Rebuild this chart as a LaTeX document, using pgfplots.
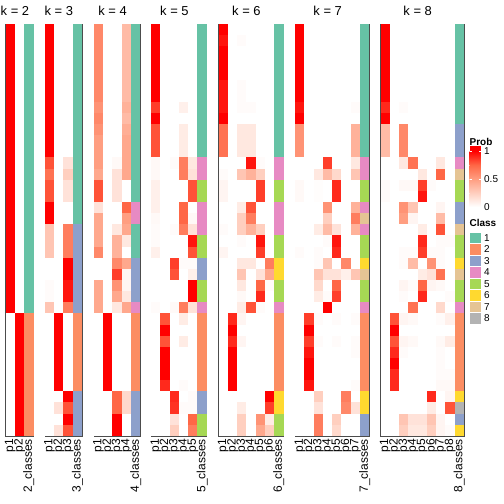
\documentclass[border=0pt]{standalone}
\usepackage{fontspec}
\setmainfont{Liberation Sans}
\usepackage{pgfplots}
\usepackage{pgfplotstable}
\pgfplotsset{compat=1.18}
\definecolor{cls1}{HTML}{66C2A5}
\definecolor{cls2}{HTML}{FC8D62}
\definecolor{cls3}{HTML}{8DA0CB}
\definecolor{cls4}{HTML}{E78AC3}
\definecolor{cls5}{HTML}{A6D854}
\definecolor{cls6}{HTML}{FFD92F}
\definecolor{cls7}{HTML}{E5C494}
\definecolor{cls8}{HTML}{B3B3B3}
\definecolor{q1}{RGB}{255,207,191}
\definecolor{q2}{RGB}{255,158,129}
\definecolor{q3}{RGB}{255,103,70}
\pgfdeclareplotmark{cell}{\pgfpathrectangle{\pgfpoint{-4.75bp}{-5.72bp}}{\pgfpoint{9.5bp}{11.44bp}}\pgfusepathqfill}
\pgfplotsset{
  colormap={wr}{rgb255=(255,255,255) rgb255=(255,207,191) rgb255=(255,158,129) rgb255=(255,103,70) rgb255=(255,0,0)},
  panel/.style={anchor=north west, scale only axis, height=412bp,
    ymin=-0.5, ymax=36.5, y dir=reverse, xmin=-0.5, enlargelimits=false,
    axis on top, axis line style={draw=black!70, line width=0.8bp},
    ytick=\empty, xtick style={draw=none}, major tick length=0pt,
    xticklabel style={rotate=90, anchor=east, inner sep=0pt, font=\fontsize{12}{14}\selectfont},
    xticklabel shift=3bp,
    title style={font=\fontsize{13}{15}\selectfont, anchor=base, yshift=2.5bp, inner sep=0pt},
    point meta min=0, point meta max=1, colormap name=wr},
  prob/.style={scatter, only marks, mark=cell, point meta=explicit},
  cls/.style={scatter, only marks, mark=cell, point meta=explicit symbolic,
    scatter/classes={1={mark=cell,fill=cls1,draw=cls1},2={mark=cell,fill=cls2,draw=cls2},
      3={mark=cell,fill=cls3,draw=cls3},4={mark=cell,fill=cls4,draw=cls4},
      5={mark=cell,fill=cls5,draw=cls5},6={mark=cell,fill=cls6,draw=cls6},
      7={mark=cell,fill=cls7,draw=cls7},8={mark=cell,fill=cls8,draw=cls8}}}
}
\pgfplotstableread{
p1 p2 c
1 0 1
1 0 1
1 0 1
1 0 1
1 0 1
1 0 1
1 0 1
1 0 1
1 0 1
1 0 1
1 0 1
1 0 1
1 0 1
1 0 1
1 0 1
1 0 1
1 0 1
1 0 1
1 0 1
1 0 1
1 0 1
1 0 1
1 0 1
1 0 1
1 0 1
1 0 1
0 1 2
0 1 2
0 1 2
0 1 2
0 1 2
0 1 2
0 1 2
0 1 2
0 1 2
0 1 2
0 1 2
}\tTwo
\pgfplotstableread{
p1 p2 p3 c
1 0 0 1
1 0 0 1
1 0 0 1
1 0 0 1
1 0 0 1
1 0 0 1
1 0 0 1
1 0 0 1
1 0 0 1
1 0 0 1
1 0 0 1
1 0 0 1
0.8 0 0.15 1
0.7 0 0.25 1
0.8 0 0.15 1
0.8 0 0.15 1
1 0 0 1
1 0 0 1
0.3 0 0.65 3
0.3 0 0.65 3
0.3 0 0.65 3
0 0 1 3
0 0 1 3
0.02 0 0.95 3
0.02 0 0.95 3
0.3 0 0.65 3
0 1 0 2
0 1 0 2
0 1 0 2
0 1 0 2
0 1 0 2
0 1 0 2
0 1 0 2
0 0 1 3
0 0.15 0.8 3
0 0 1 3
0 0.15 0.8 3
}\tThree
\pgfplotstableread{
p1 p2 p3 p4 c
0.6 0 0 0.35 1
0.6 0 0 0.35 1
0.6 0 0 0.35 1
0.6 0 0 0.35 1
0.6 0 0 0.35 1
0.6 0 0 0.35 1
0.6 0 0 0.35 1
0.55 0 0 0.4 1
0.6 0 0 0.35 1
0.55 0 0 0.42 1
0.5 0 0 0.45 1
0.5 0 0 0.45 1
0.5 0 0.03 0.45 1
0.45 0 0.15 0.45 1
0.8 0 0.15 0 1
0.8 0 0.15 0 1
0.15 0 0 0.75 4
0.45 0 0 0.5 4
0.45 0 0.12 0.45 1
0.45 0 0.4 0.12 1
0.6 0 0.4 0 1
0 0 0.6 0.45 3
0 0 0.85 0.05 3
0.45 0 0.55 0.05 3
0.45 0 0.45 0.12 3
0.45 0 0.12 0.45 4
0 1 0 0 2
0 1 0 0 2
0 1 0 0 2
0 1 0 0 2
0 1 0 0 2
0 1 0 0 2
0 1 0 0 2
0 0 0.75 0.2 3
0 0 0.75 0.2 3
0 0 1 0 3
0 0 1 0 3
}\tFour
\pgfplotstableread{
p1 p2 p3 p4 p5 c
1 0 0 0 0 1
1 0 0 0 0 1
1 0 0 0 0 1
1 0 0 0 0 1
1 0 0 0 0 1
1 0 0 0 0 1
1 0 0 0 0 1
0.85 0 0 0.08 0 1
1 0 0 0 0 1
0.8 0 0 0.1 0 1
0.8 0 0 0.1 0 1
0.8 0 0 0.1 0 1
0.03 0 0.02 0.65 0.12 4
0.03 0 0 0.65 0.15 4
0.08 0 0 0 0.8 5
0.08 0 0 0 0.8 5
0.08 0 0 0.75 0 4
0.03 0 0 0.75 0.03 4
0.02 0 0.02 0.65 0.15 4
0.02 0 0 0 0.95 5
0.08 0 0 0 0.8 5
0 0 0.85 0.02 0.02 3
0 0 0.8 0 0.08 3
0 0 0 0 1 5
0 0 0 0 1 5
0.02 0 0.03 0.65 0.15 4
0 0.8 0 0.1 0 2
0 1 0 0 0 2
0 0.8 0 0.1 0 2
0 1 0 0 0 2
0 1 0 0 0 2
0 1 0 0 0 2
0 0.9 0 0.02 0 2
0 0 0.9 0 0.02 3
0 0 0.88 0.02 0.02 3
0 0 0.15 0 0.75 5
0 0 0.25 0 0.65 5
}\tFive
\pgfplotstableread{
p1 p2 p3 p4 p5 p6 c
1 0 0 0 0 0 1
0.95 0 0.02 0 0 0 1
1 0 0 0 0 0 1
1 0 0 0 0 0 1
1 0 0 0 0 0 1
0.95 0 0.02 0 0 0 1
0.95 0 0.02 0 0 0 1
0.95 0 0.02 0.02 0 0 1
1 0 0 0 0 0 1
0.7 0 0.12 0.12 0 0 1
0.7 0 0.12 0.12 0 0 1
0.7 0 0.12 0.12 0 0 1
0 0 0 0.95 0.02 0 4
0.02 0 0.3 0.4 0.25 0 4
0.05 0 0 0 0.85 0 5
0.05 0 0 0 0.85 0 5
0 0 0.1 0.8 0 0 4
0 0 0.25 0.65 0 0 4
0.02 0 0.25 0.4 0.25 0 4
0 0 0.02 0 0.95 0 5
0.05 0 0 0 0.85 0 5
0 0 0.12 0.12 0 0.65 6
0 0 0.3 0 0.15 0.45 6
0 0 0.12 0 0.75 0.02 5
0 0 0.03 0 0.9 0 5
0 0 0.1 0.8 0.02 0 4
0 0.9 0.05 0 0 0 2
0 1 0 0 0 0 2
0 0.9 0.05 0 0 0 2
0 1 0 0 0 0 2
0 1 0 0 0 0 2
0 1 0 0 0 0 2
0 1 0 0 0 0 2
0 0 0 0 0 1 6
0 0 0.1 0 0 0.85 6
0 0 0.25 0 0.55 0.1 5
0 0 0.25 0 0.45 0.25 5
}\tSix
\pgfplotstableread{
p1 p2 p3 p4 p5 p6 p7 c
1 0 0 0 0 0 0 1
1 0 0 0 0 0 0 1
1 0 0 0 0 0 0 1
1 0 0 0 0 0 0 1
1 0 0 0 0 0 0 1
1 0 0 0 0 0 0 1
1 0 0 0 0 0 0 1
0.95 0 0 0 0 0 0.02 1
1 0 0 0 0 0 0 1
0.55 0 0 0 0 0 0.4 1
0.55 0 0 0 0 0 0.4 1
0.55 0 0 0 0 0 0.4 1
0 0 0 0.85 0 0 0.12 4
0 0 0.12 0.35 0.2 0 0.3 4
0.03 0 0.01 0 0.9 0 0 5
0.03 0 0.01 0 0.9 0 0 5
0 0 0 0.55 0 0 0.4 4
0 0 0 0.25 0 0 0.65 7
0 0 0.1 0.35 0.15 0 0.4 4
0 0 0 0.02 0.95 0 0 5
0.02 0 0.02 0 0.9 0 0 5
0 0 0.02 0.3 0 0.6 0 6
0 0 0.3 0.15 0.15 0.08 0.3 7
0 0 0.2 0 0.75 0 0 5
0 0 0.1 0.02 0.85 0 0 5
0 0 0 1 0 0 0 4
0 0.85 0.02 0 0.02 0 0.02 2
0 1 0 0 0 0 0 2
0 0.85 0.02 0 0.02 0 0.02 2
0 0.95 0 0 0 0 0.02 2
0 1 0 0 0 0 0 2
0 1 0 0 0 0 0 2
0 0.95 0 0 0 0 0.02 2
0 0 0.25 0 0 0.65 0 6
0 0 0.15 0 0 0.6 0.15 6
0 0 0.65 0 0.25 0 0 3
0 0 0.65 0 0.2 0 0 3
}\tSeven
\pgfplotstableread{
p1 p2 p3 p4 p5 p6 p7 p8 c
1 0 0 0 0 0 0 0 1
1 0 0 0 0 0 0 0 1
1 0 0 0 0 0 0 0 1
1 0 0 0 0 0 0 0 1
1 0 0 0 0 0 0 0 1
1 0 0 0 0 0 0 0 1
1 0 0 0 0 0 0 0 1
0.9 0 0.02 0 0 0 0 0 1
1 0 0 0 0 0 0 0 1
0.35 0 0.6 0 0 0 0 0 3
0.35 0 0.6 0 0 0 0 0 3
0.35 0 0.6 0 0 0 0 0 3
0 0 0.12 0.7 0 0 0.12 0 4
0 0 0 0 0.12 0 0.75 0 7
0.02 0 0.03 0.03 0.85 0.02 0 0 5
0.02 0 0 0 0.95 0 0 0 5
0 0 0.55 0.3 0 0 0.05 0 3
0 0 0.5 0.05 0 0 0.35 0 3
0 0 0 0 0.1 0 0.8 0 7
0 0 0 0 0.9 0 0.02 0.02 5
0 0 0.02 0.02 0.85 0.02 0.02 0 5
0 0 0.02 0.35 0 0.55 0.02 0 6
0 0 0 0 0.1 0.15 0.7 0 7
0 0 0.05 0.02 0.75 0.05 0.03 0 5
0 0 0.02 0 0.9 0 0 0.02 5
0 0 0 0.7 0 0 0.2 0 4
0 0.8 0.05 0.03 0 0 0.02 0.08 2
0 1 0 0 0 0 0 0 2
0 0.8 0.05 0.03 0 0 0.03 0.1 2
0 0.9 0.02 0 0 0 0.02 0 2
0 1 0 0 0 0 0.02 0 2
0 0.9 0 0 0 0 0.02 0.02 2
0 0.9 0 0 0 0 0.03 0.03 2
0 0 0 0 0 0.9 0 0.05 6
0 0 0 0 0 0.1 0 0.8 8
0 0 0.3 0.15 0.15 0.3 0.05 0 3
0 0 0.25 0.12 0.12 0.25 0.05 0.02 6
}\tEight
\newcommand\lfont{\fontsize{10}{12}\selectfont}
\begin{document}
\begin{tikzpicture}
\useasboundingbox (0,0) rectangle (504bp,-504bp);
% k = 2
\begin{axis}[panel, at={(5.7bp,-24bp)}, width=27.75bp, xmax=2.5,
  xtick={0,1,2}, xticklabels={p1,p2,2\_classes},
  title={k = 2}, title style={at={(0.3333,1)}}]
\pgfplotsinvokeforeach{1,2}{\addplot[prob] table[x expr=#1-1, y expr=\coordindex, meta=p#1]{\tTwo};}
\addplot[cls] table[x expr=2, y expr=\coordindex, meta=c]{\tTwo};
\end{axis}
% k = 3
\begin{axis}[panel, at={(45bp,-24bp)}, width=37bp, xmax=3.5,
  xtick={0,1,2,3}, xticklabels={p1,p2,p3,3\_classes},
  title={k = 3}, title style={at={(0.375,1)}}]
\pgfplotsinvokeforeach{1,2,3}{\addplot[prob] table[x expr=#1-1, y expr=\coordindex, meta=p#1]{\tThree};}
\addplot[cls] table[x expr=3, y expr=\coordindex, meta=c]{\tThree};
\end{axis}
% k = 4
\begin{axis}[panel, at={(94bp,-24bp)}, width=46.25bp, xmax=4.5,
  xtick={0,1,2,3,4}, xticklabels={p1,p2,p3,p4,4\_classes},
  title={k = 4}, title style={at={(0.4,1)}}]
\pgfplotsinvokeforeach{1,2,3,4}{\addplot[prob] table[x expr=#1-1, y expr=\coordindex, meta=p#1]{\tFour};}
\addplot[cls] table[x expr=4, y expr=\coordindex, meta=c]{\tFour};
\end{axis}
% k = 5
\begin{axis}[panel, at={(151.3bp,-24bp)}, width=55.5bp, xmax=5.5,
  xtick={0,1,2,3,4,5}, xticklabels={p1,p2,p3,p4,p5,5\_classes},
  title={k = 5}, title style={at={(0.41667,1)}}]
\pgfplotsinvokeforeach{1,2,3,4,5}{\addplot[prob] table[x expr=#1-1, y expr=\coordindex, meta=p#1]{\tFive};}
\addplot[cls] table[x expr=5, y expr=\coordindex, meta=c]{\tFive};
\end{axis}
% k = 6
\begin{axis}[panel, at={(218.7bp,-24bp)}, width=64.75bp, xmax=6.5,
  xtick={0,1,2,3,4,5,6}, xticklabels={p1,p2,p3,p4,p5,p6,6\_classes},
  title={k = 6}, title style={at={(0.42857,1)}}]
\pgfplotsinvokeforeach{1,2,3,4,5,6}{\addplot[prob] table[x expr=#1-1, y expr=\coordindex, meta=p#1]{\tSix};}
\addplot[cls] table[x expr=6, y expr=\coordindex, meta=c]{\tSix};
\end{axis}
% k = 7
\begin{axis}[panel, at={(295.3bp,-24bp)}, width=74bp, xmax=7.5,
  xtick={0,1,2,3,4,5,6,7}, xticklabels={p1,p2,p3,p4,p5,p6,p7,7\_classes},
  title={k = 7}, title style={at={(0.4375,1)}}]
\pgfplotsinvokeforeach{1,2,3,4,5,6,7}{\addplot[prob] table[x expr=#1-1, y expr=\coordindex, meta=p#1]{\tSeven};}
\addplot[cls] table[x expr=7, y expr=\coordindex, meta=c]{\tSeven};
\end{axis}
% k = 8
\begin{axis}[panel, at={(380.7bp,-24bp)}, width=83.25bp, xmax=8.5,
  xtick={0,1,2,3,4,5,6,7,8}, xticklabels={p1,p2,p3,p4,p5,p6,p7,p8,8\_classes},
  title={k = 8}, title style={at={(0.44444,1)}}]
\pgfplotsinvokeforeach{1,2,3,4,5,6,7,8}{\addplot[prob] table[x expr=#1-1, y expr=\coordindex, meta=p#1]{\tEight};}
\addplot[cls] table[x expr=8, y expr=\coordindex, meta=c]{\tEight};
\end{axis}
% legend: Prob
\node[anchor=base west, inner sep=0pt, font=\lfont\bfseries] at (469.5bp,-145bp) {Prob};
\fill[red] (469.5bp,-146bp) rectangle (480.84bp,-151bp);
\shade[top color=red, bottom color=q3] (469.5bp,-151bp) rectangle (480.84bp,-165bp);
\shade[top color=q3, bottom color=q2] (469.5bp,-165bp) rectangle (480.84bp,-179bp);
\shade[top color=q2, bottom color=q1] (469.5bp,-179bp) rectangle (480.84bp,-193bp);
\shade[top color=q1, bottom color=white] (469.5bp,-193bp) rectangle (480.84bp,-207bp);
\foreach \yy in {151,179,207} {
  \draw[white, line width=0.5bp] (469.5bp,-\yy bp) -- ++(2bp,0);
  \draw[white, line width=0.5bp] (480.84bp,-\yy bp) -- ++(-2bp,0);
}
\node[anchor=west, inner sep=0pt, font=\lfont] at (484bp,-151.5bp) {1};
\node[anchor=west, inner sep=0pt, font=\lfont] at (484bp,-179.5bp) {0.5};
\node[anchor=west, inner sep=0pt, font=\lfont] at (484bp,-207bp) {0};
% legend: Class
\node[anchor=base west, inner sep=0pt, font=\lfont\bfseries] at (469.5bp,-226.5bp) {Class};
\foreach \i in {1,...,8} {
  \fill[cls\i, draw=white, line width=0.4bp] (469.5bp,{-(232+11.5*(\i-1))*1bp}) rectangle ++(11.34bp,-11.5bp);
  \node[anchor=west, inner sep=0pt, font=\lfont] at (484bp,{-(237.9+11.5*(\i-1))*1bp}) {\i};
}
\end{tikzpicture}
\end{document}
